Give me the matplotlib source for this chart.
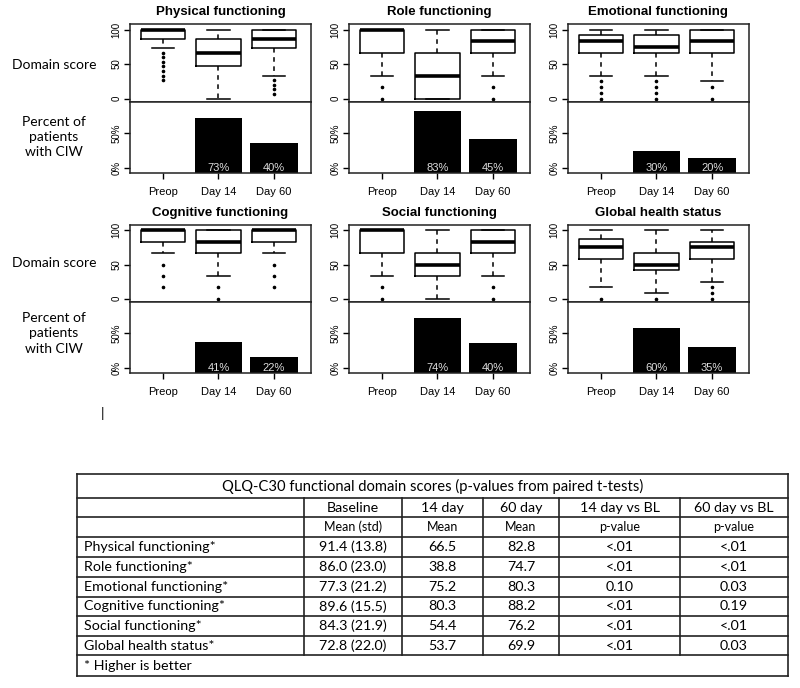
import numpy as np
import matplotlib
matplotlib.use("Agg")
import matplotlib.pyplot as plt

plt.rcParams['font.family'] = ['Liberation Sans', 'DejaVu Sans']

# panels and time points
panels = ["Physical functioning", "Role functioning", "Emotional functioning",
          "Cognitive functioning", "Social functioning", "Global health status"]
timepoints = ["Preop", "Day 14", "Day 60"]

# box statistics (one row per panel, Preop / Day 14 / Day 60)
box_q1 = [[86.7, 46.7, 73.3], [66.7, 0, 66.7], [66.7, 66.7, 66.7],
          [83.3, 66.7, 83.3], [66.7, 33.3, 66.7], [58.3, 41.7, 58.3]]
box_med = [[100, 66.7, 86.7], [100, 33.3, 83.3], [83.3, 75, 83.3],
           [100, 83.3, 100], [100, 50, 83.3], [75, 50, 75]]
box_q3 = [[100, 86.7, 100], [100, 66.7, 100], [91.7, 91.7, 100],
          [100, 100, 100], [100, 66.7, 100], [87, 66.7, 83.3]]
whisk_lo = [[73.3, 0, 33.3], [33.3, 0, 33.3], [33.3, 33.3, 25],
            [66.7, 33.3, 66.7], [33.3, 0, 33.3], [16.7, 8.3, 25]]
whisk_hi = [[100, 100, 100], [100, 100, 100], [100, 100, 100],
            [100, 100, 100], [100, 100, 100], [100, 100, 100]]
outliers = [
    [[66.7, 60, 53.3, 46.7, 40, 33.3, 26.7], [], [26.7, 20, 13.3, 6.7]],
    [[16.7, 0], [], [16.7, 0]],
    [[25, 16.7, 8.3, 0], [25, 16.7, 8.3, 0], [16.7, 0]],
    [[50, 33.3, 16.7], [16.7, 0], [50, 33.3, 16.7]],
    [[16.7, 0], [], [16.7, 0]],
    [[0], [0], [16.7, 8.3, 0]],
]

# percent of patients with CIW
ciw_pct = [[0, 73, 40], [0, 83, 45], [0, 30, 20],
           [0, 41, 22], [0, 74, 40], [0, 60, 35]]

# table
tbl_title = "QLQ-C30 functional domain scores (p-values from paired t-tests)"
tbl_head = ["", "Baseline", "14 day", "60 day", "14 day vs BL", "60 day vs BL"]
tbl_sub = ["", "Mean (std)", "Mean", "Mean", "p-value", "p-value"]
tbl_rows = ["Physical functioning*", "Role functioning*", "Emotional functioning*",
            "Cognitive functioning*", "Social functioning*", "Global health status*"]
baseline = ["91.4 (13.8)", "86.0 (23.0)", "77.3 (21.2)", "89.6 (15.5)", "84.3 (21.9)", "72.8 (22.0)"]
mean14 = [66.5, 38.8, 75.2, 80.3, 54.4, 53.7]
mean60 = [82.8, 74.7, 80.3, 88.2, 76.2, 69.9]
p14 = ["<.01", "<.01", "0.10", "<.01", "<.01", "<.01"]
p60 = ["<.01", "<.01", "0.03", "0.19", "<.01", "0.03"]
footnote = "* Higher is better"

W, H = 800, 688
fig = plt.figure(figsize=(W / 100, H / 100), dpi=100)

# overlay in pixel coords for the table
ov = fig.add_axes([0, 0, 1, 1])
ov.set_xlim(0, W)
ov.set_ylim(H, 0)
ov.axis('off')

col_x = [77, 304, 402, 483, 559, 680, 788]
row_y = [474, 498, 517, 537, 557, 577, 597, 616, 636, 655, 676]
lc = '#222222'
tfont = ['Lato', 'DejaVu Sans']
fs = 10.3

for y in row_y:
    ov.plot([col_x[0], col_x[-1]], [y, y], color=lc, lw=1.2)
for x in (col_x[0], col_x[-1]):
    ov.plot([x, x], [row_y[0], row_y[-1]], color=lc, lw=1.2)
for x in col_x[1:-1]:
    ov.plot([x, x], [row_y[1], row_y[-2]], color=lc, lw=1.2)

def mid(a, b):
    return (a + b) / 2

ov.text(mid(col_x[0], col_x[-1]), mid(row_y[0], row_y[1]), tbl_title,
        ha='center', va='center', fontsize=fs + 0.3, family=tfont)
for j in range(1, 6):
    ov.text(mid(col_x[j], col_x[j + 1]), mid(row_y[1], row_y[2]), tbl_head[j],
            ha='center', va='center', fontsize=fs, family=tfont)
    ov.text(mid(col_x[j], col_x[j + 1]), mid(row_y[2], row_y[3]), tbl_sub[j],
            ha='center', va='center', fontsize=9, family=tfont)
for i, lab in enumerate(tbl_rows):
    yc = mid(row_y[3 + i], row_y[4 + i])
    vals = [baseline[i], f"{mean14[i]:.1f}", f"{mean60[i]:.1f}", p14[i], p60[i]]
    ov.text(col_x[0] + 7, yc, lab, ha='left', va='center', fontsize=fs, family=tfont)
    for j, v in enumerate(vals):
        ov.text(mid(col_x[j + 1], col_x[j + 2]), yc, v, ha='center', va='center',
                fontsize=fs, family=tfont)
ov.text(col_x[0] + 7, mid(row_y[-2], row_y[-1]), footnote, ha='left', va='center',
        fontsize=fs, family=tfont)
ov.text(103, 414, "|", ha='center', va='center', fontsize=10, family=tfont)

# chart panels
col_left = [0.1625, 0.4363, 0.71]
pw = 0.226
upper = [(0.8517, 0.1134), (0.561, 0.112)]
lower = [(0.7485, 0.1032), (0.4578, 0.1032)]
pos = [1, 2, 3]

for k, name in enumerate(panels):
    r, c = divmod(k, 3)
    axb = fig.add_axes([col_left[c], upper[r][0], pw, upper[r][1]])
    axp = fig.add_axes([col_left[c], lower[r][0], pw, lower[r][1]])

    stats = []
    for i in range(3):
        stats.append(dict(med=box_med[k][i], q1=box_q1[k][i], q3=box_q3[k][i],
                          whislo=whisk_lo[k][i], whishi=whisk_hi[k][i],
                          fliers=np.array(outliers[k][i])))
    axb.bxp(stats, positions=pos, widths=0.8,
            boxprops=dict(color='black', linewidth=1.1),
            medianprops=dict(color='black', linewidth=2.6),
            whiskerprops=dict(color='black', linewidth=1.1, linestyle=(0, (3, 3))),
            capprops=dict(color='black', linewidth=1.1),
            flierprops=dict(marker='o', markersize=1.6, markerfacecolor='black',
                            markeredgecolor='black'))
    axb.set_xlim(0.41, 3.66)
    axb.set_ylim(-5, 108)
    axb.set_xticks([])
    axb.set_yticks([0, 50, 100])
    axb.set_yticklabels(['0', '50', '100'], rotation=90, va='center', fontsize=7)
    axb.tick_params(axis='y', length=4, width=1, pad=2)
    axb.text(0.5, 1 + 12 / 78, name, transform=axb.transAxes, ha='center', va='center',
             fontsize=9.5, fontweight='bold')

    axp.bar(pos, ciw_pct[k], width=0.85, color='black')
    for x, v in zip(pos, ciw_pct[k]):
        if v > 0:
            axp.text(x, 7, f"{v}%", ha='center', va='center', fontsize=8, color='#dddddd')
    axp.set_xlim(0.41, 3.66)
    axp.set_ylim(0, 95)
    axp.set_yticks([7, 53])
    axp.set_yticklabels(['0%', '50%'], rotation=90, va='center', fontsize=7)
    axp.set_xticks(pos)
    axp.set_xticklabels(timepoints, fontsize=8)
    axp.tick_params(axis='y', length=4, width=1, pad=2)
    axp.tick_params(axis='x', length=4, width=1, pad=6)

    for a in (axb, axp):
        for s in a.spines.values():
            s.set_linewidth(1.1)
            s.set_color('#222222')

# left labels
for yd, yp in [(65, 137), (263, 333)]:
    fig.text(54 / W, 1 - yd / H, "Domain score", ha='center', va='center',
             fontsize=10, family=tfont)
    fig.text(54 / W, 1 - yp / H, "Percent of\npatients\nwith CIW", ha='center',
             va='center', fontsize=10, family=tfont, linespacing=1.35)

fig.savefig("out.png", dpi=100)
